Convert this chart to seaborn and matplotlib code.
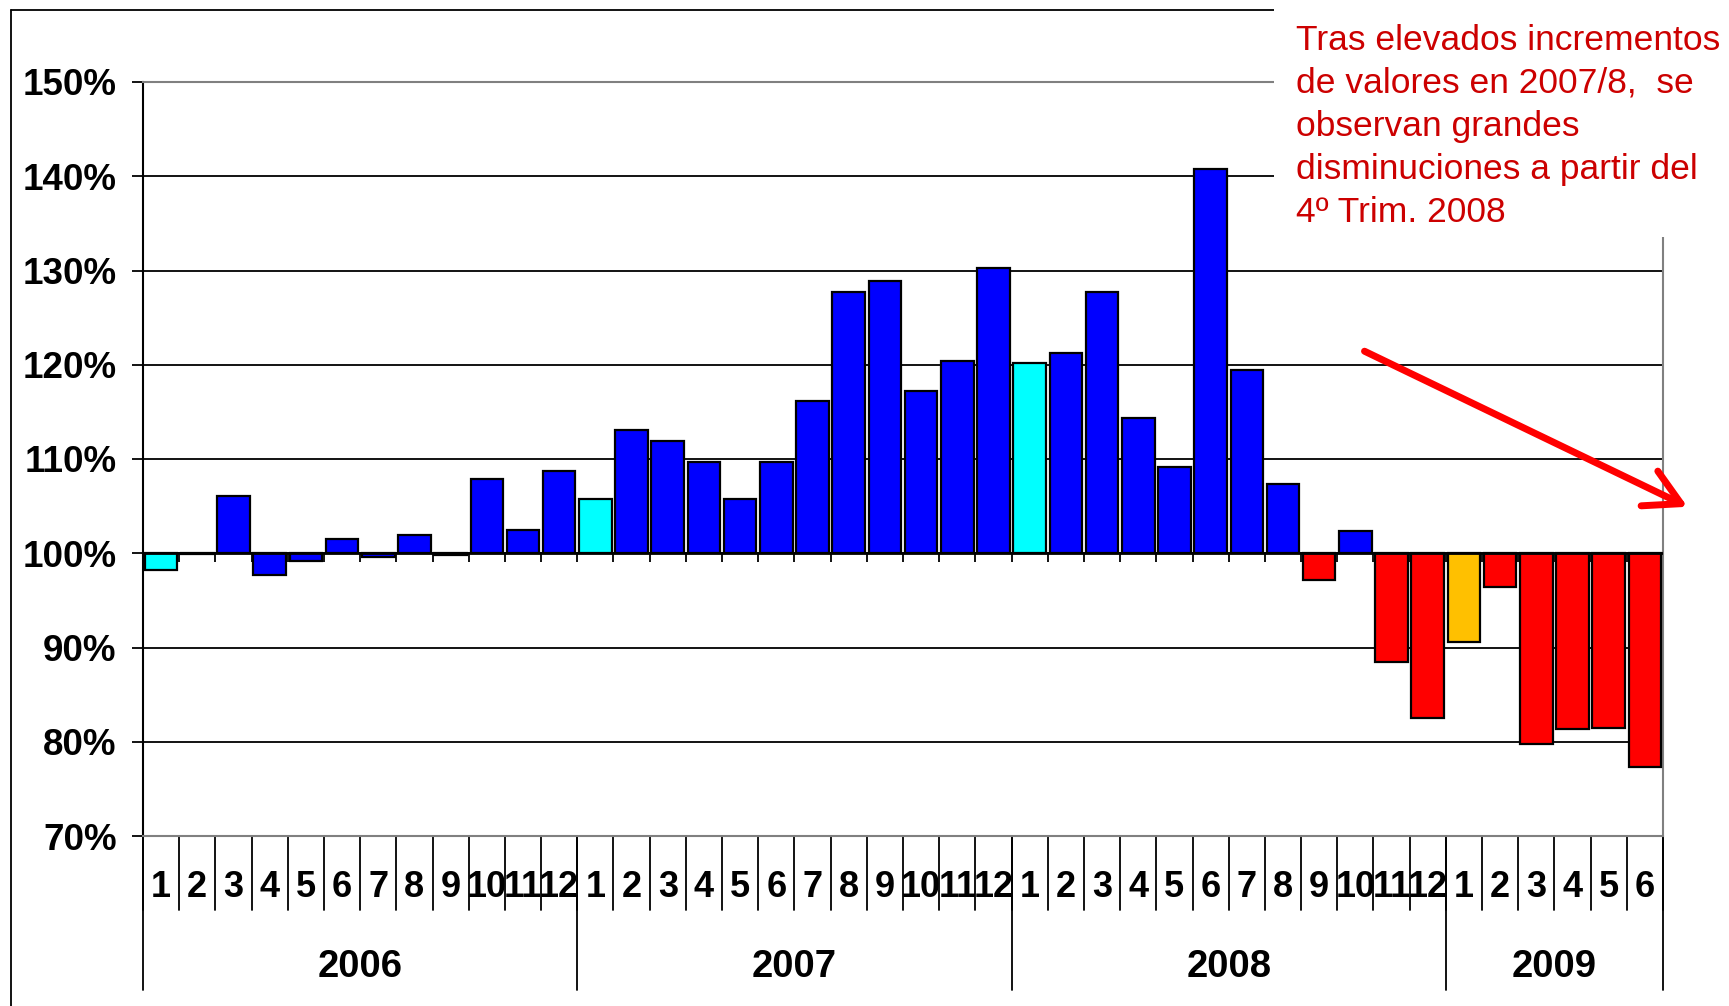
import numpy as np
import pandas as pd
import matplotlib
matplotlib.use("Agg")
import matplotlib.pyplot as plt
from matplotlib.lines import Line2D
from matplotlib.patches import Rectangle
import seaborn as sns

# datos: indice mensual (%), ene-2006 a jun-2009
years = ["2006", "2007", "2008", "2009"]
months_per_year = [12, 12, 12, 6]
month_labels = [str(m) for n in months_per_year for m in range(1, n + 1)]

values_2006 = [98.2, 99.9, 106.1, 97.7, 99.2, 101.5, 99.6, 101.9, 99.85, 107.9, 102.5, 108.7]
values_2007 = [105.8, 113.1, 111.9, 109.7, 105.8, 109.7, 116.2, 127.7, 128.9, 117.2, 120.4, 130.3]
values_2008 = [120.2, 121.2, 127.7, 114.3, 109.1, 140.8, 119.4, 107.3, 97.2, 102.4, 88.5, 82.5]
values_2009 = [90.6, 96.4, 79.8, 81.3, 81.5, 77.3]
values = values_2006 + values_2007 + values_2008 + values_2009

groups_2006 = ["enero"] + ["normal"] * 11
groups_2007 = ["enero"] + ["normal"] * 11
groups_2008 = ["enero"] + ["normal"] * 7 + ["caida", "normal", "caida", "caida"]
groups_2009 = ["enero09"] + ["caida"] * 5
groups = groups_2006 + groups_2007 + groups_2008 + groups_2009

palette = {"normal": "#0000FF", "enero": "#00FFFF", "caida": "#FF0000", "enero09": "#FFC000"}

note = ("Tras elevados incrementos\nde valores en 2007/8,  se\nobservan grandes\n"
        "disminuciones a partir del\n4º Trim. 2008")

df = pd.DataFrame({"pos": range(len(values)), "mes": month_labels,
                   "valor": values, "grupo": groups})
df["desvio"] = df["valor"] - 100  # barras desde la base 100%

sns.set_style("white")
plt.rcParams["font.family"] = ["Liberation Sans", "DejaVu Sans"]
plt.rcParams["text.color"] = "black"
plt.rcParams["ytick.color"] = "black"
plt.rcParams["ytick.labelcolor"] = "black"

fig = plt.figure(figsize=(17.29, 10.06), dpi=100)
ax = fig.add_axes([143 / 1729, 1 - 836 / 1006, 1520 / 1729, 754 / 1006])

sns.barplot(data=df, x="pos", y="desvio", hue="grupo", palette=palette,
            saturation=1, dodge=False, width=0.9, edgecolor="black", linewidth=1.6,
            errorbar=None, legend=False, ax=ax, zorder=3)

ax.set_xlim(-0.5, len(values) - 0.5)
ax.set_ylim(-30, 50)
yticks = list(range(-30, 51, 10))
ax.set_yticks(yticks, labels=[f"{t + 100}%" for t in yticks],
              fontsize=26.5, fontweight="bold")
ax.tick_params(axis="y", length=8, width=1.3, pad=11, color="black", left=True)
ax.set_xticks([])
ax.set_xlabel("")
ax.set_ylabel("")

ax.set_axisbelow(True)
ax.yaxis.grid(True, color="black", linewidth=1.3)
ax.yaxis.get_gridlines()[-1].set_color("gray")
ax.yaxis.get_gridlines()[0].set_color("gray")

ax.spines["left"].set_color("black")
ax.spines["left"].set_linewidth(1.5)
for side in ["right", "top", "bottom"]:
    ax.spines[side].set_color("gray")
    ax.spines[side].set_linewidth(1.5)

# linea base 100% con marcas
ax.axhline(0, color="black", linewidth=2, zorder=4)
bounds = np.arange(-0.5, len(values), 1.0)
ax.vlines(bounds, -0.9, 0, color="black", linewidth=1.3, zorder=2)

# eje de categorias (mes / año)
trans = ax.get_xaxis_transform()
for i, m in enumerate(month_labels):
    ax.text(i, -0.068, m, transform=trans, ha="center", va="center",
            fontsize=26, fontweight="bold")
for b in bounds:
    ax.plot([b, b], [0, -0.098], transform=trans, clip_on=False,
            color="black", linewidth=1.3)
edges = np.concatenate([[0], np.cumsum(months_per_year)]) - 0.5
for b in edges:
    ax.plot([b, b], [0, -0.204], transform=trans, clip_on=False,
            color="black", linewidth=1.3)
for y, a, b in zip(years, edges[:-1], edges[1:]):
    ax.text((a + b) / 2, -0.174, y, transform=trans, ha="center", va="center",
            fontsize=27.5, fontweight="bold")

# flecha de tendencia
ax.annotate("", xy=(1690 / 1729, 1 - 508 / 1006), xytext=(1362 / 1729, 1 - 350 / 1006),
            xycoords="figure fraction", textcoords="figure fraction",
            arrowprops=dict(arrowstyle="->, head_length=0.6, head_width=0.33",
                            mutation_scale=42, color="#FF0000", linewidth=5),
            annotation_clip=False)

# marco y cuadro de texto
fig.add_artist(Line2D([11 / 1729, 11 / 1729], [0, 1 - 10 / 1006], color="black", linewidth=1.3))
fig.add_artist(Line2D([11 / 1729, 1274 / 1729], [1 - 10 / 1006, 1 - 10 / 1006], color="black", linewidth=1.3))
fig.add_artist(Rectangle((1274 / 1729, 1 - 237 / 1006), 1 - 1274 / 1729, 237 / 1006,
                         transform=fig.transFigure, facecolor="white", edgecolor="none", zorder=5))
fig.text(1296 / 1729, 1 - 24 / 1006, note, color="#CC0000", fontsize=25.5,
         ha="left", va="top", linespacing=1.38, zorder=6)

fig.savefig("out.png", dpi=100)
